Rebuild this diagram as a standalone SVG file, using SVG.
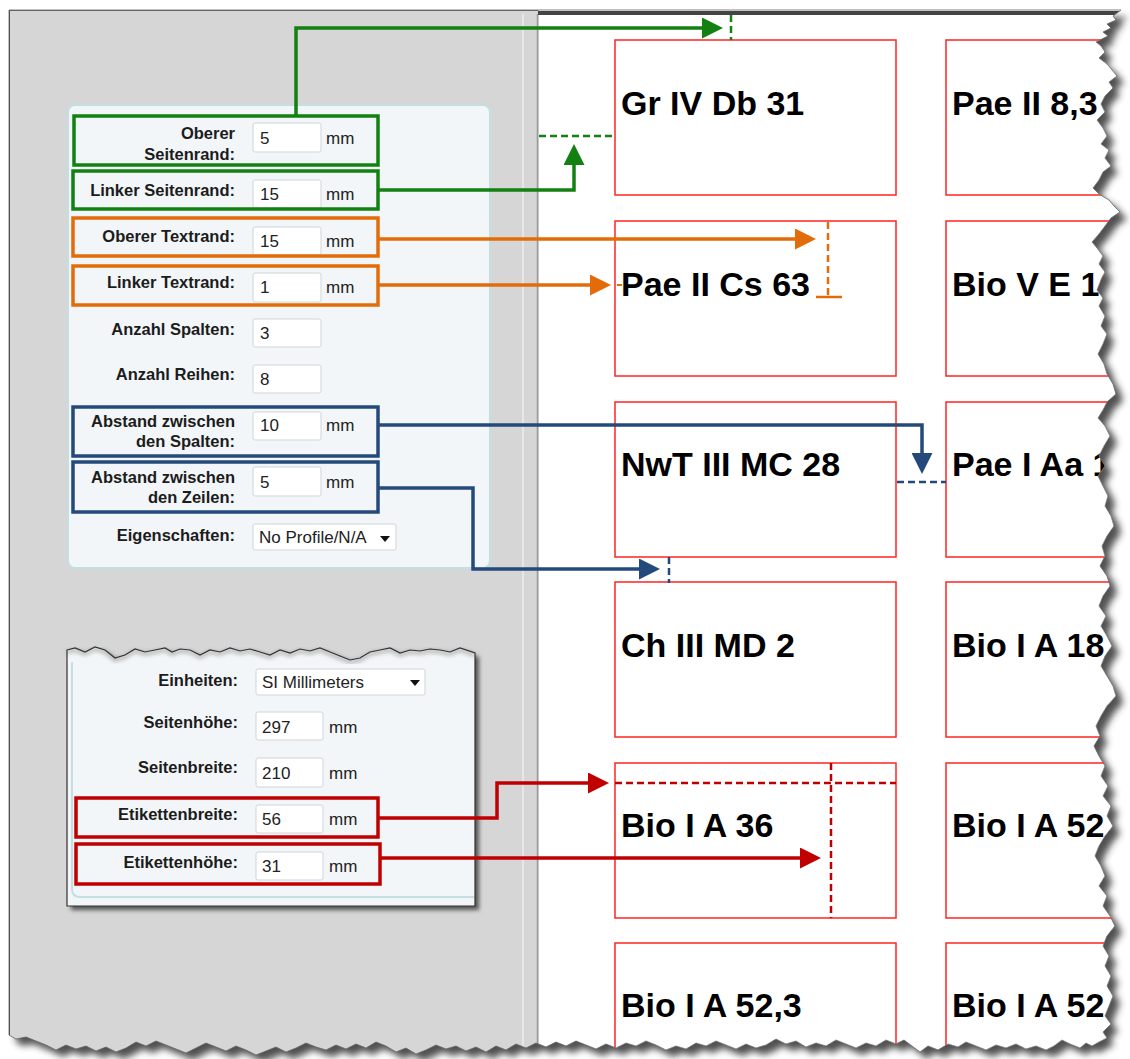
<svg xmlns="http://www.w3.org/2000/svg" xmlns:xlink="http://www.w3.org/1999/xlink" width="1130" height="1059" viewBox="0 0 1130 1059">
<style>
.lbl{font-family:"Liberation Sans",Arial,sans-serif;font-weight:bold;font-size:16.5px;fill:#1c1c1c;text-anchor:end}
.val{font-family:"Liberation Sans",Arial,sans-serif;font-size:17px;fill:#222}
.tag{font-family:"Liberation Sans",Arial,sans-serif;font-weight:bold;font-size:34px;fill:#000}
.inp{fill:#fff;stroke:#cfd5d9;stroke-width:1}
.cell{fill:#fff;stroke:#ff2424;stroke-width:1.5}
.gB{fill:none;stroke:#138012;stroke-width:3.5}
.oB{fill:none;stroke:#e36c0a;stroke-width:3.5}
.bB{fill:none;stroke:#244a7c;stroke-width:3.5}
.rB{fill:none;stroke:#c00000;stroke-width:3.5}
.cg{fill:none;stroke:#138012;stroke-width:3.5}
.co{fill:none;stroke:#e36c0a;stroke-width:3.5}
.cb{fill:none;stroke:#244a7c;stroke-width:3.5}
.cr{fill:none;stroke:#c00000;stroke-width:3.5}
.dash{stroke-width:2.5;stroke-dasharray:7,4;fill:none}
</style>
<defs>
<filter id="blur" x="-5%" y="-5%" width="110%" height="110%"><feGaussianBlur stdDeviation="3.5"/></filter>
<filter id="blur2" x="-10%" y="-10%" width="120%" height="120%"><feGaussianBlur stdDeviation="2"/></filter>
<marker id="ag" markerUnits="userSpaceOnUse" markerWidth="22" markerHeight="21" viewBox="0 0 22 21" refX="2" refY="10.5" orient="auto"><path d="M0,0 L21,10.5 L0,21 Z" fill="#138012"/></marker>
<marker id="ao" markerUnits="userSpaceOnUse" markerWidth="22" markerHeight="21" viewBox="0 0 22 21" refX="2" refY="10.5" orient="auto"><path d="M0,0 L21,10.5 L0,21 Z" fill="#e36c0a"/></marker>
<marker id="ab" markerUnits="userSpaceOnUse" markerWidth="22" markerHeight="21" viewBox="0 0 22 21" refX="2" refY="10.5" orient="auto"><path d="M0,0 L21,10.5 L0,21 Z" fill="#244a7c"/></marker>
<marker id="ar" markerUnits="userSpaceOnUse" markerWidth="22" markerHeight="21" viewBox="0 0 22 21" refX="2" refY="10.5" orient="auto"><path d="M0,0 L21,10.5 L0,21 Z" fill="#c00000"/></marker>
<path id="torn" d="M9,10 L1121,10 L1113,16 L1116,20 L1107,24 L1111,28 L1103,32 L1108,36 L1096,42 L1101,46 L1105,52 L1099,58 L1107,64 L1112,70 L1117,76 L1109,82 L1113,88 L1105,96 L1101,104 L1105,112 L1097,120 L1103,128 L1107,136 L1101,144 L1109,150 L1105,158 L1111,166 L1103,172 L1099,180 L1093,188 L1099,194 L1109,200 L1114,206 L1120,212 L1111,218 L1105,226 L1099,234 L1092,242 L1097,248 L1103,256 L1099,264 L1105,272 L1101,280 L1097,290 L1103,298 L1099,306 L1105,316 L1101,326 L1107,334 L1103,344 L1098,354 L1104,364 L1107,374 L1113,384 L1116,394 L1107,402 L1103,410 L1098,418 L1105,426 L1110,436 L1104,446 L1099,456 L1105,466 L1098,476 L1103,486 L1108,496 L1105,506 L1111,516 L1114,526 L1107,536 L1102,546 L1105,556 L1100,566 L1107,576 L1110,586 L1103,596 L1099,606 L1106,616 L1101,626 L1107,636 L1112,646 L1105,656 L1101,666 L1107,676 L1113,686 L1116,696 L1107,706 L1101,716 L1096,726 L1100,736 L1094,746 L1099,756 L1105,766 L1101,776 L1108,786 L1103,796 L1111,806 L1107,816 L1113,826 L1105,836 L1099,846 L1095,856 L1101,866 L1105,876 L1099,886 L1107,896 L1103,906 L1110,916 L1115,926 L1107,936 L1103,946 L1109,956 L1105,966 L1111,976 L1107,986 L1113,996 L1109,1006 L1105,1016 L1111,1024 L1103,1032 L1107,1038 L1099,1042 L1092,1046 L1086,1043 L1080,1048 L1070,1044 L1062,1040 L1054,1046 L1046,1050 L1036,1046 L1026,1049 L1016,1044 L1006,1048 L996,1045 L986,1050 L976,1046 L966,1042 L958,1047 L948,1044 L938,1050 L928,1046 L920,1052 L912,1046 L904,1040 L896,1044 L886,1040 L876,1046 L866,1043 L856,1048 L846,1044 L836,1040 L826,1046 L816,1043 L806,1047 L796,1041 L786,1044 L776,1039 L766,1045 L756,1048 L746,1044 L736,1049 L726,1045 L716,1041 L706,1046 L696,1043 L686,1049 L676,1046 L666,1050 L656,1045 L646,1041 L636,1046 L626,1043 L616,1048 L606,1044 L596,1049 L586,1045 L576,1041 L566,1046 L556,1042 L546,1047 L536,1043 L526,1048 L516,1044 L506,1050 L496,1046 L486,1052 L476,1047 L466,1051 L456,1046 L446,1049 L436,1045 L426,1050 L416,1054 L406,1048 L396,1052 L386,1046 L376,1042 L366,1048 L356,1044 L346,1049 L336,1045 L326,1050 L316,1047 L306,1043 L296,1048 L286,1052 L276,1047 L266,1051 L256,1055 L246,1050 L236,1046 L226,1051 L216,1047 L206,1043 L196,1048 L186,1053 L176,1049 L166,1045 L156,1041 L146,1046 L136,1042 L126,1048 L116,1052 L106,1047 L96,1051 L86,1046 L76,1049 L66,1045 L56,1050 L46,1045 L36,1041 L26,1037 L16,1039 L9,1035 Z"/>
<clipPath id="clipTorn"><use xlink:href="#torn"/></clipPath>
<path id="panel2" d="M67,650 L75,648 L85,652 L95,647 L105,650 L115,658 L125,655 L135,649 L145,652 L155,650 L165,648 L172,652 L180,649 L190,650 L200,655 L210,650 L220,652 L230,648 L240,651 L250,649 L260,652 L270,655 L280,650 L290,653 L300,649 L310,651 L320,648 L330,652 L340,656 L350,660 L360,658 L370,652 L380,650 L390,648 L400,653 L410,650 L420,651 L430,649 L440,650 L450,652 L460,648 L475,653 L475,906 L67,906 Z"/>
</defs>

<rect width="1130" height="1059" fill="#fff"/>
<use xlink:href="#torn" fill="#333" opacity="0.85" filter="url(#blur)" transform="translate(7,7)"/>

<g clip-path="url(#clipTorn)">
  <rect x="9" y="10" width="530" height="1050" fill="#d6d6d6"/>
  <rect x="539" y="10" width="600" height="1050" fill="#fff"/>
  <line x1="523" y1="14" x2="523" y2="1059" stroke="#ececec" stroke-width="1.5"/>
  <line x1="537.5" y1="14" x2="537.5" y2="1059" stroke="#9a9a9a" stroke-width="1.5"/>
  <rect x="538" y="11" width="600" height="4" fill="#444"/>
  <line x1="9" y1="10.5" x2="538" y2="10.5" stroke="#666" stroke-width="1"/>
  <line x1="9.5" y1="10" x2="9.5" y2="1059" stroke="#444" stroke-width="1"/>

  <!-- label sheet -->
  <g id="labels">
    <g id="cell-1-1"><rect class="cell" x="615" y="40" width="281" height="155"/><text class="tag" x="621" y="115">Gr IV Db 31</text></g>
    <g id="cell-1-2"><rect class="cell" x="946" y="40" width="300" height="155"/><text class="tag" x="952" y="115">Pae II 8,3</text></g>
    <g id="cell-2-1"><rect class="cell" x="615" y="221" width="281" height="155"/><text class="tag" x="621" y="296">Pae II Cs 63</text></g>
    <g id="cell-2-2"><rect class="cell" x="946" y="221" width="300" height="155"/><text class="tag" x="952" y="296">Bio V E 16</text></g>
    <g id="cell-3-1"><rect class="cell" x="615" y="402" width="281" height="155"/><text class="tag" x="621" y="476">NwT III MC 28</text></g>
    <g id="cell-3-2"><rect class="cell" x="946" y="402" width="300" height="155"/><text class="tag" x="952" y="476">Pae I Aa 1</text></g>
    <g id="cell-4-1"><rect class="cell" x="615" y="582" width="281" height="155"/><text class="tag" x="621" y="657">Ch III MD 2</text></g>
    <g id="cell-4-2"><rect class="cell" x="946" y="582" width="300" height="155"/><text class="tag" x="952" y="657">Bio I A 18</text></g>
    <g id="cell-5-1"><rect class="cell" x="615" y="763" width="281" height="155"/><text class="tag" x="621" y="837">Bio I A 36</text></g>
    <g id="cell-5-2"><rect class="cell" x="946" y="763" width="300" height="155"/><text class="tag" x="952" y="837">Bio I A 52</text></g>
    <g id="cell-6-1"><rect class="cell" x="615" y="943" width="281" height="155"/><text class="tag" x="621" y="1017">Bio I A 52,3</text></g>
    <g id="cell-6-2"><rect class="cell" x="946" y="943" width="300" height="155"/><text class="tag" x="952" y="1017">Bio I A 52</text></g>
  </g>

  <!-- top settings panel -->
  <g id="panel-top">
    <rect x="68" y="105" width="422" height="463" rx="7" fill="#f2f6f8" stroke="#c3dfe1" stroke-width="2"/>
    <g id="f-oberer-seitenrand">
      <text class="lbl" x="235" y="139">Oberer</text><text class="lbl" x="235" y="160">Seitenrand:</text>
      <rect class="inp" x="253" y="123" width="68" height="29" rx="2"/><text class="val" x="260" y="144">5</text><text class="val" x="326" y="144">mm</text>
      <rect class="gB" x="74" y="116" width="304" height="49"/>
    </g>
    <g id="f-linker-seitenrand">
      <text class="lbl" x="235" y="196">Linker Seitenrand:</text>
      <rect class="inp" x="253" y="180" width="68" height="28" rx="2"/><text class="val" x="260" y="200">15</text><text class="val" x="326" y="200">mm</text>
      <rect class="gB" x="73" y="171" width="305" height="38"/>
    </g>
    <g id="f-oberer-textrand">
      <text class="lbl" x="235" y="242">Oberer Textrand:</text>
      <rect class="inp" x="253" y="227" width="68" height="28" rx="2"/><text class="val" x="260" y="247">15</text><text class="val" x="326" y="247">mm</text>
      <rect class="oB" x="73" y="218" width="305" height="38"/>
    </g>
    <g id="f-linker-textrand">
      <text class="lbl" x="235" y="288">Linker Textrand:</text>
      <rect class="inp" x="253" y="273" width="68" height="29" rx="2"/><text class="val" x="260" y="293">1</text><text class="val" x="326" y="293">mm</text>
      <rect class="oB" x="73" y="266" width="305" height="39"/>
    </g>
    <g id="f-anzahl-spalten">
      <text class="lbl" x="235" y="335">Anzahl Spalten:</text>
      <rect class="inp" x="253" y="319" width="68" height="28" rx="2"/><text class="val" x="260" y="339">3</text>
    </g>
    <g id="f-anzahl-reihen">
      <text class="lbl" x="235" y="380">Anzahl Reihen:</text>
      <rect class="inp" x="253" y="365" width="68" height="28" rx="2"/><text class="val" x="260" y="385">8</text>
    </g>
    <g id="f-abstand-spalten">
      <text class="lbl" x="235" y="427">Abstand zwischen</text><text class="lbl" x="235" y="447">den Spalten:</text>
      <rect class="inp" x="253" y="412" width="68" height="28" rx="2"/><text class="val" x="260" y="431">10</text><text class="val" x="326" y="431">mm</text>
      <rect class="bB" x="73" y="407" width="305" height="49"/>
    </g>
    <g id="f-abstand-zeilen">
      <text class="lbl" x="235" y="483">Abstand zwischen</text><text class="lbl" x="235" y="503">den Zeilen:</text>
      <rect class="inp" x="253" y="467" width="68" height="29" rx="2"/><text class="val" x="260" y="488">5</text><text class="val" x="326" y="488">mm</text>
      <rect class="bB" x="73" y="462" width="305" height="50"/>
    </g>
    <g id="f-eigenschaften">
      <text class="lbl" x="235" y="541">Eigenschaften:</text>
      <rect class="inp" x="253" y="524" width="143" height="26" rx="2"/><text class="val" x="259" y="543">No Profile/N/A</text>
      <path d="M380,536 L390,536 L385,542 Z" fill="#111"/>
    </g>
  </g>

  <!-- bottom settings panel -->
  <g id="panel-bottom">
    <use xlink:href="#panel2" fill="#555" filter="url(#blur2)" transform="translate(4,4)"/>
    <use xlink:href="#panel2" fill="#f3f6f8"/>
    <path d="M72,662 V889 Q72,897 80,897 H474" fill="none" stroke="#c3dfe1" stroke-width="2"/>
    <path d="M67,652 L75,650 L85,654 L95,649 L105,652 L115,660 L125,657 L135,651 L145,654 L155,652 L165,650 L172,654 L180,651 L190,652 L200,657 L210,652 L220,654 L230,650 L240,653 L250,651 L260,654 L270,657 L280,652 L290,655 L300,651 L310,653 L320,650 L330,654 L340,658 L350,662 L360,660 L370,654 L380,652 L390,650 L400,655 L410,652 L420,653 L430,651 L440,652 L450,654 L460,650 L475,655" fill="none" stroke="#999" stroke-width="2.5" filter="url(#blur2)"/>
    <use xlink:href="#panel2" fill="none" stroke="#333" stroke-width="1.2"/>
    <g id="f-einheiten">
      <text class="lbl" x="238" y="686">Einheiten:</text>
      <rect class="inp" x="256" y="669" width="169" height="26" rx="2"/><text class="val" x="262" y="688">SI Millimeters</text>
      <path d="M410,680 L420,680 L415,686 Z" fill="#111"/>
    </g>
    <g id="f-seitenhoehe">
      <text class="lbl" x="238" y="728">Seitenhöhe:</text>
      <rect class="inp" x="256" y="712" width="67" height="28" rx="2"/><text class="val" x="262" y="733">297</text><text class="val" x="329" y="733">mm</text>
    </g>
    <g id="f-seitenbreite">
      <text class="lbl" x="238" y="773">Seitenbreite:</text>
      <rect class="inp" x="256" y="758" width="67" height="29" rx="2"/><text class="val" x="262" y="779">210</text><text class="val" x="329" y="779">mm</text>
    </g>
    <g id="f-etikettenbreite">
      <text class="lbl" x="238" y="820">Etikettenbreite:</text>
      <rect class="inp" x="256" y="805" width="67" height="28" rx="2"/><text class="val" x="262" y="825">56</text><text class="val" x="329" y="825">mm</text>
      <rect class="rB" x="76" y="798" width="302" height="39"/>
    </g>
    <g id="f-etikettenhoehe">
      <text class="lbl" x="238" y="868">Etikettenhöhe:</text>
      <rect class="inp" x="256" y="852" width="67" height="28" rx="2"/><text class="val" x="262" y="872">31</text><text class="val" x="329" y="872">mm</text>
      <rect class="rB" x="76" y="844" width="304" height="40"/>
    </g>
  </g>

  <!-- connectors -->
  <g id="connectors">
    <path class="cg" d="M296,116 V28 H704" marker-end="url(#ag)"/>
    <line class="dash" stroke="#138012" x1="731" y1="15" x2="731" y2="40"/>
    <path class="cg" d="M378,190 H574 V163" marker-end="url(#ag)"/>
    <line class="dash" stroke="#138012" x1="539" y1="136" x2="615" y2="136"/>

    <path class="co" d="M378,239 H797" marker-end="url(#ao)"/>
    <line class="dash" stroke="#e36c0a" x1="828" y1="222" x2="828" y2="297"/>
    <line stroke="#e36c0a" stroke-width="2.5" x1="816" y1="297" x2="842" y2="297"/>
    <path class="co" d="M378,285 H592" marker-end="url(#ao)"/>
    <line stroke="#e36c0a" stroke-width="2" x1="617" y1="285" x2="622" y2="285"/>

    <path class="cb" d="M378,425 H922 V455" marker-end="url(#ab)"/>
    <line class="dash" stroke="#244a7c" x1="897" y1="482" x2="946" y2="482"/>
    <path class="cb" d="M378,488 H473 V569 H641" marker-end="url(#ab)"/>
    <line class="dash" stroke="#244a7c" x1="669" y1="557" x2="669" y2="583"/>

    <path class="cr" d="M378,818 H497 V783 H590" marker-end="url(#ar)"/>
    <line class="dash" stroke="#c00000" x1="615" y1="783" x2="896" y2="783"/>
    <line class="dash" stroke="#c00000" x1="831" y1="763" x2="831" y2="918"/>
    <path class="cr" d="M380,858 H802" marker-end="url(#ar)"/>
  </g>
</g>
<use xlink:href="#torn" fill="none" stroke="#666" stroke-width="0.8"/>
</svg>
